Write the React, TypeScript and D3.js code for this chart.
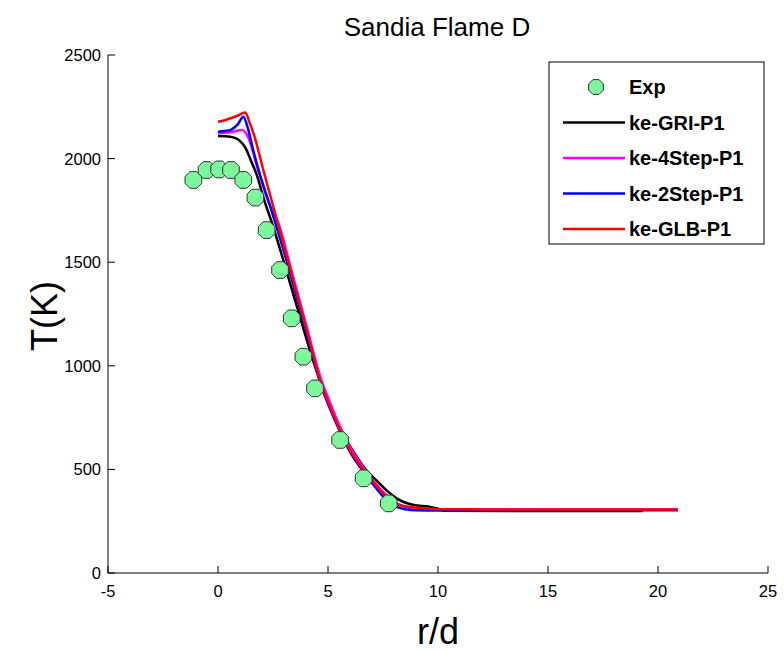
import React from "react";
import * as d3 from "d3";

const W = 784;
const H = 651;

const title = "Sandia Flame D";
const xLabel = "r/d";
const yLabel = "T(K)";
const xTicks = [-5, 0, 5, 10, 15, 20, 25];
const yTicks = [0, 500, 1000, 1500, 2000, 2500];

const expX = [-1.12, -0.52, 0.05, 0.59, 1.15, 1.7, 2.21, 2.82, 3.35, 3.88, 4.41, 5.55, 6.62, 7.76];
const expT = [1897, 1945, 1948, 1945, 1897, 1812, 1655, 1462, 1229, 1044, 891, 642, 457, 336];

const griX = [0, 0.55, 0.9, 1.3, 1.5, 1.75, 2.1, 2.51, 3.27, 3.8, 4.4, 4.9, 5.55, 6.2, 6.8, 7.27, 7.7, 8.12, 8.9, 9.6, 10.0, 10.3, 19.3];
const griT = [2109, 2106, 2093, 2041, 1990, 1925, 1800, 1671, 1400, 1210, 1000, 862, 700, 578, 488, 440, 395, 360, 328, 320, 310, 300, 299];

const step4X = [0, 0.35, 0.68, 1.07, 1.36, 1.82, 2.3, 2.74, 3.4, 4.0, 4.64, 5.1, 5.55, 6.0, 6.5, 7.0, 7.5, 8.0, 8.5, 9.0, 10, 20.9];
const step4T = [2123, 2125, 2130, 2138, 2106, 1945, 1790, 1690, 1435, 1200, 950, 820, 705, 608, 525, 455, 392, 345, 318, 310, 306, 306];

const step2X = [0, 0.3, 0.6, 0.9, 1.15, 1.35, 1.6, 1.91, 2.4, 3.0, 3.6, 4.2, 4.64, 5.1, 5.55, 6.0, 6.5, 7.0, 7.5, 8.0, 8.5, 9.0, 10, 20.9];
const step2T = [2130, 2133, 2140, 2165, 2202, 2150, 2040, 1921, 1760, 1550, 1322, 1092, 920, 790, 682, 585, 505, 435, 370, 325, 308, 303, 302, 303];

const glbX = [0, 0.3, 0.6, 0.9, 1.23, 1.45, 1.65, 2.06, 2.74, 3.4, 4.0, 4.64, 5.1, 5.55, 6.0, 6.5, 7.0, 7.5, 8.0, 8.5, 9.0, 10, 12, 15, 18, 20.9];
const glbT = [2178, 2185, 2196, 2208, 2222, 2170, 2110, 1945, 1680, 1420, 1185, 931, 800, 690, 594, 515, 447, 385, 340, 322, 316, 308, 307, 307, 307, 307];

const seriesNames = ["ke-GRI-P1", "ke-4Step-P1", "ke-2Step-P1", "ke-GLB-P1"];
const seriesColors = ["#000000", "#ff00ff", "#0000ff", "#ff0000"];
const seriesXs = [griX, step4X, step2X, glbX];
const seriesTs = [griT, step4T, step2T, glbT];

const expFill = "#7df79c";
const font = "'Liberation Sans', Arial, Helvetica, sans-serif";

export default function App() {
  const x = d3.scaleLinear().domain([-5, 25]).range([108, 768]);
  const y = d3.scaleLinear().domain([0, 2500]).range([573, 55]);
  const line = d3
    .line<[number, number]>()
    .x((d) => x(d[0]))
    .y((d) => y(d[1]))
    .curve(d3.curveMonotoneX);

  const octagon = (cx: number, cy: number, r: number) =>
    d3
      .range(8)
      .map((i) => {
        const a = (Math.PI / 8) * (2 * i + 1);
        return `${cx + r * Math.cos(a)},${cy + r * Math.sin(a)}`;
      })
      .join(" ");

  const legX = 549;
  const legY = 62;
  const legW = 215;
  const legH = 182;
  const rowY = (i: number) => legY + 25 + i * 35.5;

  return (
    <svg
      width={W}
      height={H}
      style={{ position: "absolute", left: 0, top: 0, background: "#fff" }}
      fontFamily={font}
    >
      <rect x={0} y={0} width={W} height={H} fill="#fff" />
      <text x={437} y={36} textAnchor="middle" fontSize={26} fill="#000">
        {title}
      </text>

      {/* axes */}
      <line x1={108} y1={573} x2={768} y2={573} stroke="#000" strokeWidth={1} />
      <line x1={108} y1={573} x2={108} y2={55} stroke="#000" strokeWidth={1} />
      {xTicks.map((t) => (
        <g key={"xt" + t}>
          <line x1={x(t)} x2={x(t)} y1={573} y2={566} stroke="#000" />
          <text x={x(t)} y={597} textAnchor="middle" fontSize={16.5} fill="#000">
            {t}
          </text>
        </g>
      ))}
      {yTicks.map((t) => (
        <g key={"yt" + t}>
          <line x1={108} x2={115} y1={y(t)} y2={y(t)} stroke="#000" />
          <text x={101} y={y(t) + 6} textAnchor="end" fontSize={16.5} fill="#000">
            {t}
          </text>
        </g>
      ))}
      <text x={438} y={644} textAnchor="middle" fontSize={36} fill="#000">
        {xLabel}
      </text>
      <text
        transform={`translate(57,316) rotate(-90)`}
        textAnchor="middle"
        fontSize={36}
        fill="#000"
      >
        {yLabel}
      </text>

      {/* lines */}
      {seriesXs.map((xs, i) => (
        <path
          key={"s" + i}
          d={line(xs.map((v, j) => [v, seriesTs[i][j]] as [number, number])) || ""}
          fill="none"
          stroke={seriesColors[i]}
          strokeWidth={2.5}
          strokeLinejoin="round"
        />
      ))}

      {/* experiment */}
      {expX.map((v, i) => (
        <polygon
          key={"e" + i}
          points={octagon(x(v), y(expT[i]), 9)}
          fill={expFill}
          stroke="#333"
          strokeWidth={1}
        />
      ))}

      {/* legend */}
      <rect x={legX} y={legY} width={legW} height={legH} fill="#fff" stroke="#000" strokeWidth={1} />
      <polygon points={octagon(596, rowY(0), 8)} fill={expFill} stroke="#333" strokeWidth={1} />
      <text x={629} y={rowY(0) + 7} fontSize={20} fontWeight="bold" fill="#000">
        Exp
      </text>
      {seriesNames.map((n, i) => (
        <g key={"l" + i}>
          <line
            x1={563}
            x2={625}
            y1={rowY(i + 1)}
            y2={rowY(i + 1)}
            stroke={seriesColors[i]}
            strokeWidth={2.5}
          />
          <text x={629} y={rowY(i + 1) + 7} fontSize={20} fontWeight="bold" fill="#000">
            {n}
          </text>
        </g>
      ))}
    </svg>
  );
}
